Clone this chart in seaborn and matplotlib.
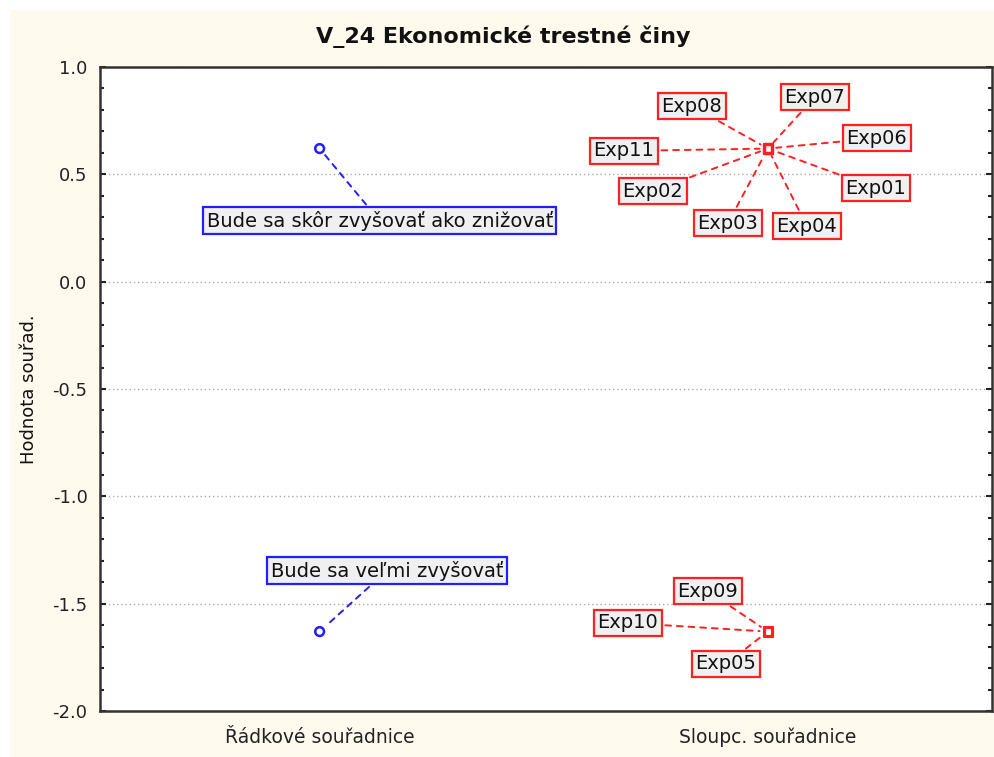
import matplotlib

matplotlib.use("Agg")

import matplotlib.pyplot as plt
import pandas as pd
import seaborn as sns
from matplotlib.patches import Rectangle
from matplotlib.ticker import MultipleLocator

# categories on the x axis
x_categories = ["Řádkové souřadnice", "Sloupc. souřadnice"]

# row coordinates
row_labels = ["Bude sa skôr zvyšovať ako znižovať", "Bude sa veľmi zvyšovať"]
row_values = [0.62, -1.63]

# column coordinates
col_labels = ["Exp01", "Exp02", "Exp03", "Exp04", "Exp05", "Exp06",
              "Exp07", "Exp08", "Exp09", "Exp10", "Exp11"]
col_values = [0.62, 0.62, 0.62, 0.62, -1.63, 0.62,
              0.62, 0.62, -1.63, -1.63, 0.62]

# where the label boxes sit (data coords), layout only
LABEL_POS = {
    "Bude sa skôr zvyšovať ako znižovať": (0.134, 0.283),
    "Bude sa veľmi zvyšovať": (0.15, -1.347),
    "Exp01": (1.241, 0.436),
    "Exp02": (0.743, 0.422),
    "Exp03": (0.911, 0.273),
    "Exp04": (1.087, 0.259),
    "Exp05": (0.906, -1.781),
    "Exp06": (1.243, 0.669),
    "Exp07": (1.105, 0.860),
    "Exp08": (0.830, 0.818),
    "Exp09": (0.866, -1.441),
    "Exp10": (0.6875, -1.590),
    "Exp11": (0.679, 0.609),
}

rows = pd.DataFrame({"x": 0, "y": row_values, "label": row_labels})
cols = pd.DataFrame({"x": 1, "y": col_values, "label": col_labels})

sns.set_style("white")
plt.rcParams["font.family"] = ["DejaVu Sans", "Liberation Sans"]

fig = plt.figure(figsize=(9.94, 7.57), dpi=100)
fig.patch.set_facecolor("white")
fig.patches.append(Rectangle((10 / 994, 0), 1, 1 - 10 / 757, transform=fig.transFigure,
                             facecolor="#fff9ee", edgecolor="none", zorder=-5))

ax = fig.add_axes([100 / 994, 1 - 711 / 757, 892 / 994, 644 / 757])
ax.set_facecolor("white")

sns.scatterplot(data=rows, x="x", y="y", ax=ax, marker="o", s=40,
                facecolor="none", edgecolor="#1f1fff", linewidth=1.8, zorder=5)
sns.scatterplot(data=cols, x="x", y="y", ax=ax, marker="s", s=35,
                facecolor="none", edgecolor="#ff2020", linewidth=2.2, zorder=5)


def add_label(label, x, y, color):
    lx, ly = LABEL_POS[label]
    ax.annotate(label, xy=(x, y), xytext=(lx, ly), ha="center", va="center",
                fontsize=14, color="#111111",
                bbox=dict(boxstyle="square,pad=0.18", fc="#f0f0f0", ec=color, lw=1.6),
                arrowprops=dict(arrowstyle="-", ls=(0, (3, 3)), color=color, lw=1.4,
                                shrinkA=2, shrinkB=6),
                zorder=6)


for _, r in rows.iterrows():
    add_label(r["label"], r["x"], r["y"], "#1f1fff")
for _, r in cols.iterrows():
    add_label(r["label"], r["x"], r["y"], "#ff2020")

ax.set_xlim(-0.49, 1.5)
ax.set_ylim(-2.0, 1.0)
ax.set_xticks([0, 1])
ax.set_xticklabels(x_categories, fontsize=13.5)
ax.yaxis.set_minor_locator(MultipleLocator(0.1))
ax.set_yticks([-2.0, -1.5, -1.0, -0.5, 0.0, 0.5, 1.0])
ax.set_yticklabels(["-2.0", "-1.5", "-1.0", "-0.5", "0.0", "0.5", "1.0"], fontsize=13)
ax.tick_params(axis="x", length=0, pad=12, colors="#222222")
ax.tick_params(axis="y", which="major", direction="in", length=4, width=1.5,
               left=True, right=True, pad=9, colors="#222222")
ax.tick_params(axis="y", which="minor", direction="in", length=3, width=1.5,
               left=True, right=True, colors="#222222")
ax.yaxis.grid(True, which="major", ls=(0, (1, 2)), color="#aaaaaa", lw=1)
ax.set_axisbelow(True)
for s in ax.spines.values():
    s.set_color("#333333")
    s.set_linewidth(1.8)

ax.set_xlabel("")
ax.set_ylabel("Hodnota souřad.", fontsize=13, labelpad=10, color="#111111")
fig.text(0.506, 1 - 37 / 757, "V_24 Ekonomické trestné činy", ha="center", va="center",
         fontsize=16, fontweight="bold", color="#111111")

fig.savefig("out.png", dpi=100)
